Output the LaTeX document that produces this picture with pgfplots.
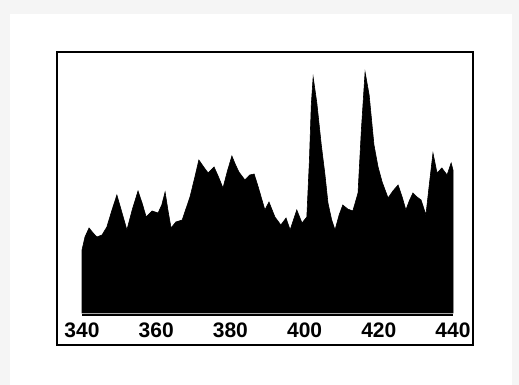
\documentclass[border=0pt]{standalone}
\usepackage{pgfplots}
\pgfplotsset{compat=1.18}
\usepackage{fontspec}
\setmainfont{Liberation Sans}
\begin{document}
\begin{tikzpicture}
% background panel (picture is 519x385 px at 0.5pt per px; origin at px (82,315))
\fill[black!4] (-41pt,157.5pt) rectangle (218.5pt,-35pt);
\fill[white] (-36pt,150.5pt) rectangle (215pt,-35pt);
\useasboundingbox (-41pt,157.5pt) rectangle (218.5pt,-35pt);
\begin{axis}[
  scale only axis,
  width=185.5pt, height=131.5pt,
  xmin=340, xmax=440, ymin=0, ymax=263,
  axis line style={draw=none},
  major tick length=0pt,
  ytick=\empty,
  xtick={340,360,380,400,420,440},
  xticklabel style={font=\fontsize{10.5}{12}\selectfont\bfseries, anchor=center, yshift=-7.5pt, inner sep=0pt},
  /pgf/number format/assume math mode=true,
  clip=false,
]
\addplot[fill=black, draw=black, line width=0.3pt] coordinates {
(340.0,2) (340.0,65) (340.8,78) (341.9,87) (343.0,82) (344.0,78) (345.4,80) (346.7,88)
(348.0,104) (349.4,120) (350.8,102) (352.1,85) (353.6,106) (355.1,124) (356.2,112) (357.3,98)
(358.9,104) (360.5,102) (361.5,110) (362.4,123) (363.2,104) (364.0,87) (365.3,93) (367.0,95)
(369.1,118) (370.3,136) (371.5,155) (372.8,148) (374.0,142) (375.6,148) (376.8,138) (378.0,127)
(379.2,144) (380.4,159) (381.4,150) (382.3,143) (383.9,135) (385.2,140) (386.4,141) (387.5,128)
(389.3,105) (390.4,113) (392.0,98) (393.6,90) (395.0,97) (396.1,85) (397.9,105) (399.3,92)
(400.6,98) (401.3,155) (401.8,210) (402.3,238) (403.3,212) (404.5,170) (405.5,140) (406.3,112)
(407.3,95) (408.2,85) (409.3,100) (410.3,110) (411.6,106) (413.0,104) (414.4,122) (415.3,185)
(416.3,243) (417.4,220) (418.7,170) (419.8,148) (420.9,133) (422.5,117) (423.8,124) (425.2,130)
(426.3,118) (427.3,105) (428.2,114) (429.2,122) (430.3,118) (431.4,115) (432.7,100) (433.6,130)
(434.6,162) (435.7,142) (437.0,147) (438.4,140) (439.5,152) (440.0,145) (440.0,2)
} -- cycle;
\draw[black, line width=0.6pt] (axis cs:340,0) -- (axis cs:440,0);
\draw[black, line width=1.3pt] (rel axis cs:-0.0674,-0.114) rectangle (rel axis cs:1.0539,1);
\end{axis}
\end{tikzpicture}
\end{document}
